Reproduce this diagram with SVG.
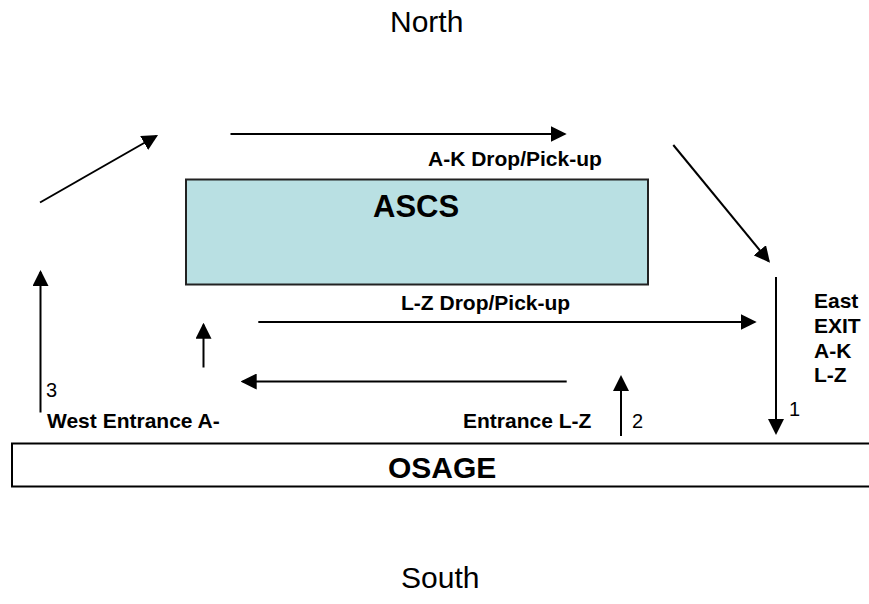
<svg xmlns="http://www.w3.org/2000/svg" width="869" height="604" viewBox="0 0 869 604">
<style>
.t{font-family:"Liberation Sans",Arial,sans-serif;fill:#000}
.b{font-weight:bold;font-size:21px}
.n{font-size:20px}
.h{font-size:30px}
.c{stroke:#000;stroke-width:2;fill:none;marker-end:url(#ah)}
</style>
<defs>
<marker id="ah" markerUnits="userSpaceOnUse" viewBox="0 0 16 16" refX="14" refY="8" markerWidth="16" markerHeight="16" orient="auto">
<path d="M0,0 L16,8 L0,16 Z" fill="#000"/>
</marker>
</defs>
<rect width="869" height="604" fill="#fff"/>
<g id="north"><text class="t h" x="390" y="32">North</text></g>
<g id="south"><text class="t h" x="401" y="588">South</text></g>
<g id="ascs">
<rect x="186" y="179.5" width="462" height="105" fill="#B9E0E3" stroke="#222" stroke-width="2"/>
<text class="t" x="373" y="217" font-size="31" font-weight="bold">ASCS</text>
</g>
<g id="osage">
<path d="M869,443.5 H12 V486.5 H869" fill="none" stroke="#000" stroke-width="2"/>
<text class="t" x="388" y="478" font-size="30" font-weight="bold">OSAGE</text>
</g>
<g id="labels">
<text class="t b" x="428" y="166">A-K Drop/Pick-up</text>
<text class="t b" x="401" y="310">L-Z Drop/Pick-up</text>
<text class="t b" x="814" y="308">East</text>
<text class="t b" x="814" y="333">EXIT</text>
<text class="t b" x="814" y="358">A-K</text>
<text class="t b" x="814" y="382">L-Z</text>
<text class="t b" x="47" y="428">West Entrance A-</text>
<text class="t b" x="463" y="428">Entrance L-Z</text>
<text class="t n" x="789" y="416">1</text>
<text class="t n" x="632" y="428">2</text>
<text class="t n" x="46" y="397">3</text>
</g>
<g id="connectors">
<line class="c" x1="40" y1="202.5" x2="156.3" y2="136"/>
<line class="c" x1="230.5" y1="134" x2="564.7" y2="134"/>
<line class="c" x1="673.3" y1="145" x2="768.7" y2="261.1"/>
<line class="c" x1="776" y1="277" x2="776" y2="433"/>
<line class="c" x1="258.3" y1="322" x2="754.7" y2="322"/>
<line class="c" x1="566.7" y1="381.5" x2="242.7" y2="381.5"/>
<line class="c" x1="203.5" y1="367.5" x2="203.5" y2="324.7"/>
<line class="c" x1="621" y1="436" x2="621" y2="377"/>
<line class="c" x1="40.5" y1="412.5" x2="40.5" y2="272"/>
</g>
</svg>
